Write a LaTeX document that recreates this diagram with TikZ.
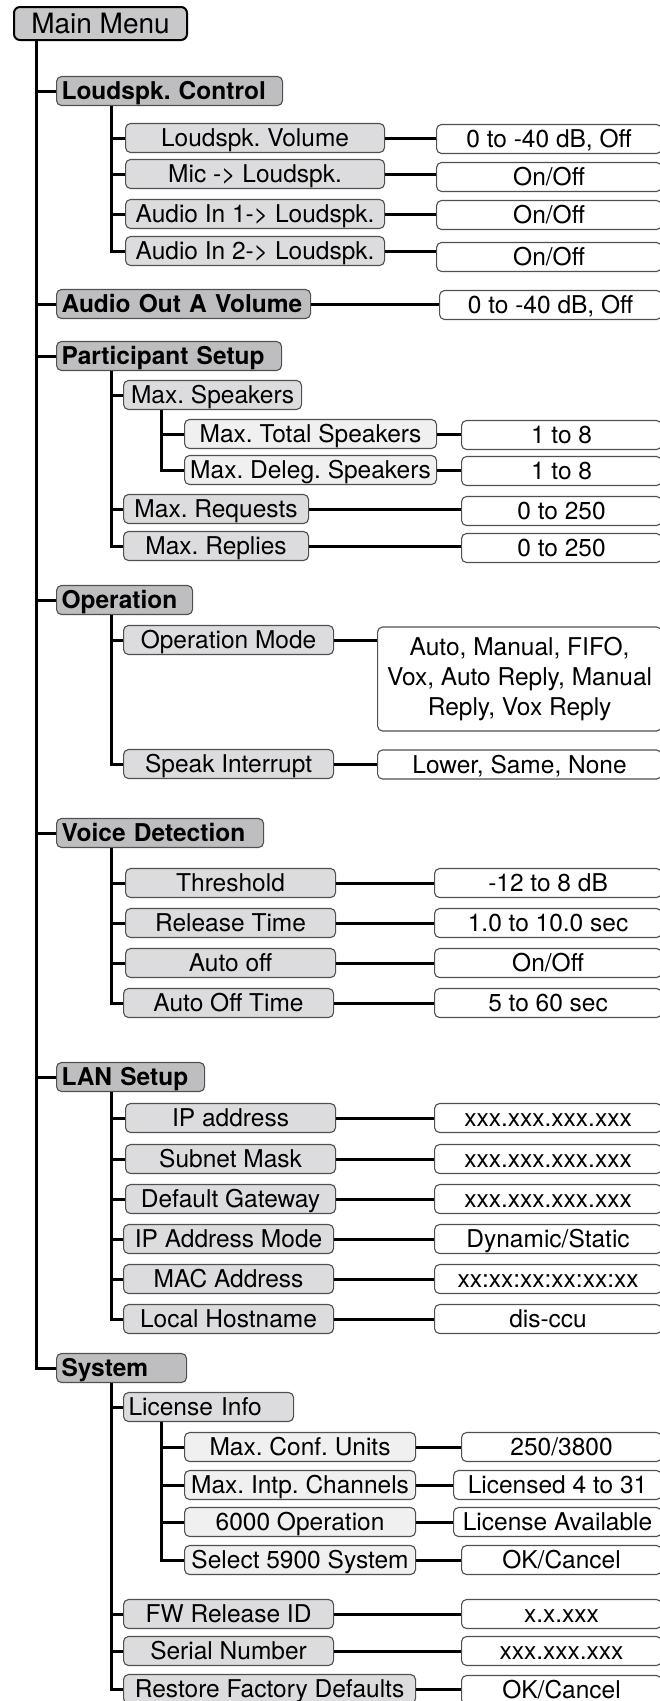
\documentclass[tikz,border=0pt]{standalone}
\usepackage{fontspec}
\setmainfont{TeX Gyre Heros}
\usetikzlibrary{positioning}
\definecolor{menucolor}{RGB}{200,200,202}
\definecolor{grpcolor}{RGB}{190,190,193}
\definecolor{itemcolor}{RGB}{220,220,222}
\definecolor{subcolor}{RGB}{240,240,240}
\definecolor{edgecolor}{RGB}{80,80,80}
\frenchspacing

\begin{document}
\begin{tikzpicture}[x=1pt, y=-1pt,
    wire/.style={line width=3pt},
    base/.style={draw=edgecolor, line width=1.1pt, rounded corners=5pt, anchor=west,
        inner xsep=5pt, font=\fontsize{24.5}{30}\selectfont},
    box/.style={base, inner ysep=6pt, text height=17pt, text depth=0pt, minimum height=29pt},
    menu/.style={draw=black, line width=2pt, rounded corners=6pt, anchor=west, fill=menucolor,
        minimum width=173pt, inner ysep=6.5pt, text height=20pt, text depth=0pt,
        font=\fontsize{28}{32}\selectfont},
    grp/.style={box, fill=grpcolor, font=\fontsize{24.5}{30}\selectfont\bfseries, text width=#1, align=left},
    item/.style={box, fill=itemcolor, minimum width=#1},
    itemL/.style={box, fill=itemcolor, text width=#1, align=left},
    sub/.style={box, fill=subcolor, minimum width=#1},
    val/.style={box, fill=white, minimum width=#1}]

    \useasboundingbox (0,0) rectangle (659,1701);

    % ═══════════════════════════════════════════════════════════════════════════
    % MAIN MENU
    % ═══════════════════════════════════════════════════════════════════════════

    \node[menu] (mm) at (13,23.5) {Main Menu};
    \coordinate (tr) at (36,40);

    % ═══════════════════════════════════════════════════════════════════════════
    % LOUDSPK. CONTROL
    % ═══════════════════════════════════════════════════════════════════════════

    \node[grp=216pt] (lsc) at (56,91) {Loudspk. Control};
    \node[item=259pt] (lvol) at (125,138) {Loudspk. Volume};
    \node[item=259pt] (mic) at (125,174) {Mic -> Loudspk.};
    \node[item=259pt] (ain1) at (125,214) {Audio In 1-> Loudspk.};
    \node[item=259pt] (ain2) at (125,251) {Audio In 2-> Loudspk.};
    \node[val=225pt] (lvolV) at (436,139) {0 to -40 dB, Off};
    \node[val=225pt] (micV) at (436,177) {On/Off};
    \node[val=225pt] (ain1V) at (436,215) {On/Off};
    \node[val=225pt] (ain2V) at (436,257) {On/Off};

    \coordinate (lscT) at ([xshift=55pt]lsc.south west);
    \draw[wire] (lscT) |- (ain2.west);
    \foreach \n in {lvol,mic,ain1}
        \draw[wire] (lscT |- \n.west) -- (\n.west);

    % ═══════════════════════════════════════════════════════════════════════════
    % AUDIO OUT A VOLUME
    % ═══════════════════════════════════════════════════════════════════════════

    \node[grp=244pt] (aoa) at (56,304) {Audio Out A Volume};
    \node[val=222pt] (aoaV) at (439,305) {0 to -40 dB, Off};

    % ═══════════════════════════════════════════════════════════════════════════
    % PARTICIPANT SETUP
    % ═══════════════════════════════════════════════════════════════════════════

    \node[grp=215pt] (psu) at (56,356) {Participant Setup};
    \node[item=178pt] (msp) at (123,395) {Max. Speakers};
    \node[sub=252pt] (mts) at (184,434) {Max. Total Speakers};
    \node[sub=252pt] (mds) at (184,470) {Max. Deleg. Speakers};
    \node[item=185pt] (mrq) at (123,509) {Max. Requests};
    \node[item=185pt] (mrp) at (123,546) {Max. Replies};
    \node[val=200pt] (mtsV) at (461,435) {1 to 8};
    \node[val=200pt] (mdsV) at (461,471) {1 to 8};
    \node[val=200pt] (mrqV) at (461,511) {0 to 250};
    \node[val=200pt] (mrpV) at (461,548) {0 to 250};

    \coordinate (psuT) at ([xshift=55pt]psu.south west);
    \draw[wire] (psuT) |- (mrp.west);
    \foreach \n in {msp,mrq}
        \draw[wire] (psuT |- \n.west) -- (\n.west);
    \coordinate (mspT) at ([xshift=38pt]msp.south west);
    \draw[wire] (mspT) |- (mds.west);
    \draw[wire] (mspT |- mts.west) -- (mts.west);

    % ═══════════════════════════════════════════════════════════════════════════
    % OPERATION
    % ═══════════════════════════════════════════════════════════════════════════

    \node[grp=126pt] (opr) at (56,600) {Operation};
    \node[item=210pt] (omd) at (123,640) {Operation Mode};
    \node[item=210pt] (spi) at (123,764) {Speak Interrupt};
    \node[base, fill=white, minimum width=284pt, minimum height=104pt, align=center] (omdV) at (377,679)
        {Auto, Manual, FIFO,\\Vox, Auto Reply, Manual\\Reply, Vox Reply};
    \node[val=284pt] (spiV) at (377,764.5) {Lower, Same, None};

    \coordinate (oprT) at ([xshift=55pt]opr.south west);
    \draw[wire] (oprT) |- (spi.west);
    \draw[wire] (oprT |- omd.west) -- (omd.west);

    % ═══════════════════════════════════════════════════════════════════════════
    % VOICE DETECTION
    % ═══════════════════════════════════════════════════════════════════════════

    \node[grp=197pt] (vdt) at (56,833) {Voice Detection};
    \node[item=210pt] (thr) at (125,883) {Threshold};
    \node[item=210pt] (rel) at (125,923) {Release Time};
    \node[item=210pt] (aof) at (125,963) {Auto off};
    \node[item=210pt] (aot) at (123,1003) {Auto Off Time};
    \node[val=227pt] (thrV) at (434,883) {-12 to 8 dB};
    \node[val=227pt] (relV) at (434,923) {1.0 to 10.0 sec};
    \node[val=227pt] (aofV) at (434,963) {On/Off};
    \node[val=227pt] (aotV) at (434,1003) {5 to 60 sec};

    \coordinate (vdtT) at ([xshift=55pt]vdt.south west);
    \draw[wire] (vdtT) |- (aot.west);
    \foreach \n in {thr,rel,aof}
        \draw[wire] (vdtT |- \n.west) -- (\n.west);

    % ═══════════════════════════════════════════════════════════════════════════
    % LAN SETUP
    % ═══════════════════════════════════════════════════════════════════════════

    \node[grp=138pt] (lan) at (56,1077) {LAN Setup};
    \node[item=210pt] (ipa) at (125,1118) {IP address};
    \node[item=210pt] (snm) at (125,1159) {Subnet Mask};
    \node[item=210pt] (dgw) at (125,1199) {Default Gateway};
    \node[item=210pt] (ipm) at (123,1239) {IP Address Mode};
    \node[item=210pt] (mac) at (123,1279) {MAC Address};
    \node[item=210pt] (lhn) at (123,1319) {Local Hostname};
    \node[val=227pt] (ipaV) at (434,1118) {xxx.xxx.xxx.xxx};
    \node[val=227pt] (snmV) at (434,1159) {xxx.xxx.xxx.xxx};
    \node[val=227pt] (dgwV) at (434,1199) {xxx.xxx.xxx.xxx};
    \node[val=227pt] (ipmV) at (434,1239) {Dynamic/Static};
    \node[val=227pt] (macV) at (434,1279) {xx:xx:xx:xx:xx:xx};
    \node[val=227pt] (lhnV) at (434,1319) {dis-ccu};

    \coordinate (lanT) at ([xshift=55pt]lan.south west);
    \draw[wire] (lanT) |- (lhn.west);
    \foreach \n in {ipa,snm,dgw,ipm,mac}
        \draw[wire] (lanT |- \n.west) -- (\n.west);

    % ═══════════════════════════════════════════════════════════════════════════
    % SYSTEM
    % ═══════════════════════════════════════════════════════════════════════════

    \node[grp=120pt] (sys) at (56,1368) {System};
    \node[itemL=160pt] (lic) at (123,1407) {License Info};
    \node[sub=231pt] (mcu) at (184,1447) {Max. Conf. Units};
    \node[sub=231pt] (mic2) at (184,1485) {Max. Intp. Channels};
    \node[sub=231pt] (six) at (184,1522) {6000 Operation};
    \node[sub=231pt] (sel) at (184,1560) {Select 5900 System};
    \node[item=210pt] (fwr) at (123,1614) {FW Release ID};
    \node[item=210pt] (ser) at (123,1651) {Serial Number};
    \node[item=292pt] (rfd) at (123,1689) {Restore Factory Defaults};
    \node[val=200pt] (mcuV) at (461,1447) {250/3800};
    \node[val=208pt] (mic2V) at (453,1485) {Licensed 4 to 31};
    \node[val=208pt] (sixV) at (453,1522) {License Available};
    \node[val=200pt] (selV) at (461,1560) {OK/Cancel};
    \node[val=200pt] (fwrV) at (461,1614) {x.x.xxx};
    \node[val=200pt] (serV) at (461,1651) {xxx.xxx.xxx};
    \node[val=200pt] (rfdV) at (461,1690) {OK/Cancel};

    \coordinate (sysT) at ([xshift=55pt]sys.south west);
    \draw[wire] (sysT) |- (rfd.west);
    \foreach \n in {lic,fwr,ser}
        \draw[wire] (sysT |- \n.west) -- (\n.west);
    \coordinate (licT) at ([xshift=38pt]lic.south west);
    \draw[wire] (licT) |- (sel.west);
    \foreach \n in {mcu,mic2,six}
        \draw[wire] (licT |- \n.west) -- (\n.west);

    % ═══════════════════════════════════════════════════════════════════════════
    % TRONC ET VALEURS
    % ═══════════════════════════════════════════════════════════════════════════

    \draw[wire] (tr) |- (sys.west);
    \foreach \n in {lsc,aoa,psu,opr,vdt,lan}
        \draw[wire] (tr |- \n.west) -- (\n.west);

    \foreach \n in {lvol,mic,ain1,ain2,aoa,mts,mds,mrq,mrp,omd,spi,thr,rel,aof,aot,
                    ipa,snm,dgw,ipm,mac,lhn,mcu,mic2,six,sel,fwr,ser,rfd}
        \draw[wire] (\n.east) -- (\n.east -| \n V.west);

\end{tikzpicture}
\end{document}
